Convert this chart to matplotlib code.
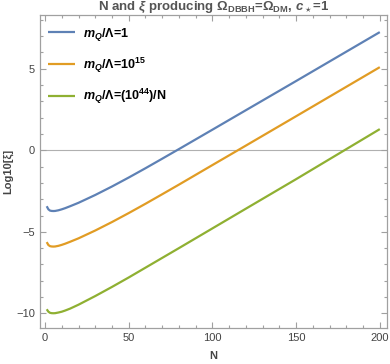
import numpy as np
import matplotlib
matplotlib.use("Agg")
import matplotlib.pyplot as plt
from matplotlib.ticker import MultipleLocator

plt.rcParams['font.family'] = ['Liberation Sans', 'DejaVu Sans']
plt.rcParams['mathtext.fontset'] = 'custom'
plt.rcParams['mathtext.rm'] = 'Liberation Sans:bold'
plt.rcParams['mathtext.it'] = 'Liberation Sans:italic:bold'
plt.rcParams['mathtext.bf'] = 'Liberation Sans:bold'

# values
N = [1, 2, 3, 4, 5, 6, 8, 10, 12, 15, 20, 30, 40, 50, 60, 70, 80, 100, 120, 150, 200]
log_xi_m1 = [-3.43, -3.62, -3.70, -3.72, -3.725, -3.72, -3.68, -3.62, -3.55, -3.43,
             -3.22, -2.74, -2.22, -1.67, -1.10, -0.515, 0.075, 1.265, 2.46, 4.25, 7.25]
log_xi_m15 = [-5.63, -5.81, -5.88, -5.90, -5.905, -5.90, -5.86, -5.80, -5.73, -5.61,
              -5.40, -4.92, -4.40, -3.85, -3.28, -2.695, -2.105, -0.905, 0.29, 2.09, 5.10]
log_xi_m44 = [-9.75, -9.90, -9.97, -9.99, -9.995, -9.99, -9.95, -9.90, -9.83, -9.71,
              -9.47, -8.94, -8.38, -7.80, -7.20, -6.60, -6.00, -4.79, -3.58, -1.77, 1.30]

labels = [r"$m_Q$/Λ=1", r"$m_Q$/Λ=$10^{15}$", r"$m_Q$/Λ=($10^{44}$)/N"]
colors = ['#5E81B5', '#E19C24', '#8FB032']

fig = plt.figure(figsize=(3.9, 3.64), dpi=100)
ax = fig.add_axes([0.1026, 0.0989, 0.8897, 0.8599])

for ys, lab, c in zip([log_xi_m1, log_xi_m15, log_xi_m44], labels, colors):
    ax.plot(N, ys, color=c, lw=1.6, label=lab, solid_capstyle='butt')

ax.axhline(0, color='#b0b0b0', lw=0.8, zorder=0)

ax.set_xlim(-3, 204.3)
ax.set_ylim(-10.9, 8.3)

ax.xaxis.set_major_locator(MultipleLocator(50))
ax.xaxis.set_minor_locator(MultipleLocator(10))
ax.yaxis.set_major_locator(MultipleLocator(5))
ax.yaxis.set_minor_locator(MultipleLocator(1))

frame_c = '#a0a0a0'
for s in ax.spines.values():
    s.set_color(frame_c)
    s.set_linewidth(0.9)
ax.tick_params(which='both', direction='in', top=True, right=True, color=frame_c,
               labelcolor='#444444', labelsize=8, width=0.8)
ax.tick_params(which='major', length=4)
ax.tick_params(which='minor', length=2)

ax.set_xlabel("N", color='#444444', fontsize=8, fontweight='bold', labelpad=6)
ax.set_ylabel("Log10[ξ]", color='#444444', fontsize=8, fontweight='bold', labelpad=2)
ax.set_title(r"N and $\xi$ producing Ω$_{\rm DBBH}$=Ω$_{\rm DM}$, $c_\star$=1",
             color='#555555', fontsize=9.5, fontweight='bold', pad=3)

leg = ax.legend(loc='upper left', bbox_to_anchor=(0.023, 0.965), frameon=False,
                handlelength=2.2, handletextpad=0.6, labelspacing=1.0,
                borderaxespad=0, borderpad=0,
                prop={'weight': 'bold', 'size': 9})

fig.savefig("out.png", dpi=100)
